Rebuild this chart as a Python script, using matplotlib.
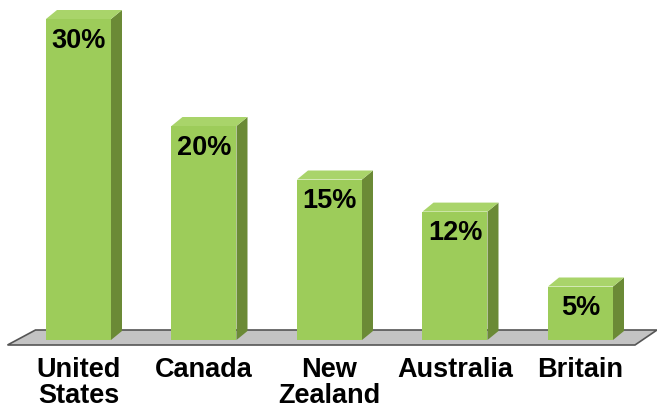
import matplotlib
matplotlib.use("Agg")
import matplotlib.pyplot as plt
from matplotlib.patches import Polygon

categories = ["United\nStates", "Canada", "New\nZealand", "Australia", "Britain"]
values = [30, 20, 15, 12, 5]
value_labels = ["30%", "20%", "15%", "12%", "5%"]

plt.rcParams['font.family'] = ['Liberation Sans', 'DejaVu Sans']

fig = plt.figure(figsize=(6.57, 4.12), dpi=100)
ax = fig.add_axes([0, 0, 1, 1])
px_x = 125.5          # pixels per category
px_y = 10.7           # pixels per percent
x0_px = 78.5
base_px = 340
ax.set_xlim(-x0_px / px_x, (657 - x0_px) / px_x)
ax.set_ylim(-(412 - base_px) / px_y, base_px / px_y)
ax.axis('off')

w = 65 / px_x
dx = 11 / px_x
dy = 9 / px_y

front_c = '#9dcc5a'
side_c = '#6b8a36'
top_c = '#a9d46a'

# floor
fl = [(-71 / px_x, -5 / px_y), (-43 / px_x, 10 / px_y),
      ((657 - x0_px) / px_x, 10 / px_y), ((635 - x0_px) / px_x, -5 / px_y)]
ax.add_patch(Polygon(fl, closed=True, facecolor='#c3c3c3', edgecolor='#555555', lw=1.2, zorder=1))

for i, (v, lab) in enumerate(zip(values, value_labels)):
    l = i - w / 2
    r = i + w / 2
    ax.bar(i, v, width=w, bottom=0, color=front_c, edgecolor='none', zorder=3)
    ax.add_patch(Polygon([(r, 0), (r + dx, dy), (r + dx, v + dy), (r, v)],
                         closed=True, facecolor=side_c, edgecolor='none', zorder=2))
    ax.add_patch(Polygon([(l, v), (l + dx, v + dy), (r + dx, v + dy), (r, v)],
                         closed=True, facecolor=top_c, edgecolor='none', zorder=2))
    ax.text(i, v - 0.8, lab, ha='center', va='top', fontsize=19.5, fontweight='bold', zorder=4)
    ax.text(i, -1.6, categories[i], ha='center', va='top', fontsize=19.5,
            fontweight='bold', linespacing=1.0, zorder=4)

fig.savefig("out.png", dpi=100)
